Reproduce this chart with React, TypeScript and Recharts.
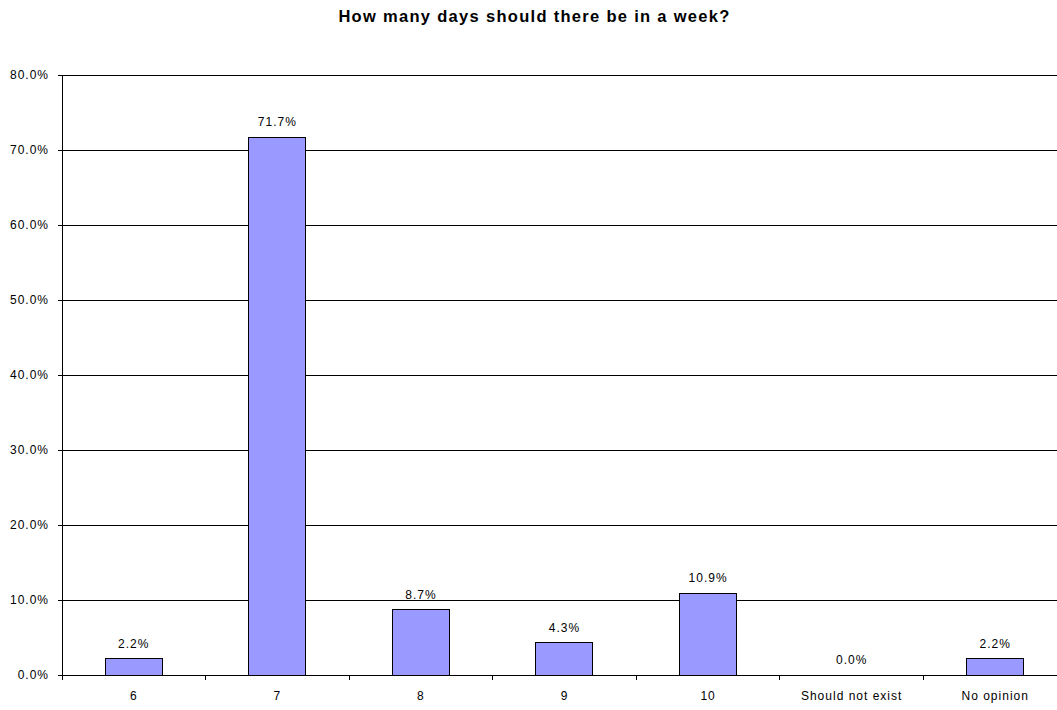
import React from "react";
import { ComposedChart, Bar, Line, XAxis, YAxis, CartesianGrid, LabelList } from "recharts";

const categories = ["6", "7", "8", "9", "10", "Should not exist", "No opinion"];
const shares = [2.2, 71.7, 8.7, 4.3, 10.9, 0.0, 2.2];
const yTicks = [0, 10, 20, 30, 40, 50, 60, 70, 80];

const data = categories.map((name, i) => ({ name, value: shares[i] }));

const CHART_W = 1080;
const AXIS_W = 62;
const RIGHT = 13;
const BAND = (CHART_W - AXIS_W - RIGHT) / categories.length;
const FONT = "Arial, 'Liberation Sans', sans-serif";
const textStyle = { fontSize: 12, fontFamily: FONT, fill: "#000", letterSpacing: 1 };

const pct = (v: number) => `${v.toFixed(1)}%`;

// category label plus a small tick on the left edge of each band
function CategoryTick(props: any) {
  const { x, y, payload } = props;
  const edge = x - BAND / 2;
  return (
    <g>
      <line x1={edge} y1={y} x2={edge} y2={y + 5} stroke="#000" />
      <text x={x} y={y + 25} textAnchor="middle" style={textStyle}>
        {payload.value}
      </text>
    </g>
  );
}

export default function App() {
  return (
    <div
      style={{
        position: "fixed",
        left: 0,
        top: 0,
        width: 1057,
        height: 710,
        overflow: "hidden",
        background: "#fff",
        shapeRendering: "crispEdges",
      }}
    >
      <div
        style={{
          position: "absolute",
          left: 0,
          top: 7,
          width: 1069,
          textAlign: "center",
          fontFamily: FONT,
          fontWeight: "bold",
          fontSize: 16.5,
          letterSpacing: 1.3,
          lineHeight: "18px",
          color: "#000",
        }}
      >
        How many days should there be in a week?
      </div>
      <ComposedChart
        width={CHART_W}
        height={710}
        data={data}
        margin={{ top: 75, right: RIGHT, left: 0, bottom: 0 }}
      >
        <CartesianGrid vertical={false} stroke="#000" />
        <XAxis
          dataKey="name"
          height={35}
          axisLine={{ stroke: "#000" }}
          tickLine={false}
          tickSize={0}
          tickMargin={0}
          interval={0}
          tick={<CategoryTick />}
        />
        <YAxis
          width={AXIS_W}
          domain={[0, 80]}
          ticks={yTicks}
          tickFormatter={pct}
          axisLine={{ stroke: "#000" }}
          tickLine={{ stroke: "#000" }}
          tickSize={4}
          tickMargin={9}
          tick={textStyle}
          interval={0}
        />
        <Bar dataKey="value" fill="#9999FF" stroke="#000" strokeWidth={1} barSize={57} isAnimationActive={false} />
        {/* invisible line only carries the value labels, so the 0.0% one shows too */}
        <Line
          dataKey="value"
          stroke="none"
          dot={false}
          activeDot={false}
          legendType="none"
          isAnimationActive={false}
        >
          <LabelList
            dataKey="value"
            position="top"
            offset={11}
            formatter={(v: any) => pct(Number(v))}
            style={textStyle}
          />
        </Line>
      </ComposedChart>
    </div>
  );
}
